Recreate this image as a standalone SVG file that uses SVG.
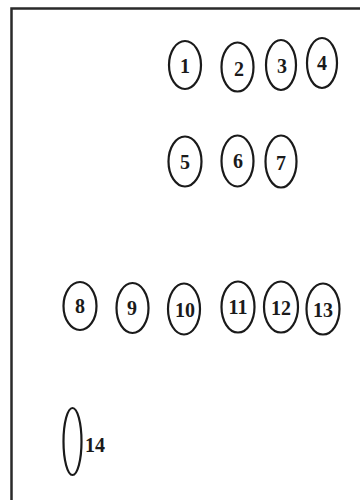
<svg xmlns="http://www.w3.org/2000/svg" width="360" height="500" viewBox="0 0 360 500">
<style>
.n ellipse{fill:none;stroke:#1a1a1a;stroke-width:2.2}
.n text{font-family:"Liberation Serif","Times New Roman",serif;font-size:20px;font-weight:bold;fill:#1a1a1a;text-anchor:middle}
.frame{fill:none;stroke:#2a2a2a;stroke-width:2.5}
</style>
<rect width="360" height="500" fill="#ffffff"/>
<path class="frame" d="M11.5 500 V8.5 H360"/>
<g id="n1" class="n"><ellipse cx="185" cy="65" rx="16" ry="24"/><text x="185" y="73">1</text></g>
<g id="n2" class="n"><ellipse cx="237.5" cy="67" rx="16" ry="24.5"/><text x="239" y="76">2</text></g>
<g id="n3" class="n"><ellipse cx="281" cy="65" rx="15" ry="25"/><text x="282" y="73">3</text></g>
<g id="n4" class="n"><ellipse cx="322" cy="63" rx="15" ry="25"/><text x="322" y="70">4</text></g>
<g id="n5" class="n"><ellipse cx="185" cy="161.5" rx="16.5" ry="25"/><text x="185" y="169">5</text></g>
<g id="n6" class="n"><ellipse cx="237.5" cy="161" rx="16" ry="25.5"/><text x="238" y="168">6</text></g>
<g id="n7" class="n"><ellipse cx="281" cy="161.5" rx="15.5" ry="26"/><text x="281" y="170">7</text></g>
<g id="n8" class="n"><ellipse cx="80" cy="306" rx="16.5" ry="24"/><text x="80" y="313">8</text></g>
<g id="n9" class="n"><ellipse cx="132.5" cy="308" rx="16" ry="25"/><text x="132" y="315">9</text></g>
<g id="n10" class="n"><ellipse cx="184" cy="309" rx="16" ry="25.5"/><text x="185" y="317">10</text></g>
<g id="n11" class="n"><ellipse cx="238" cy="307" rx="16.5" ry="25.5"/><text x="238" y="314">11</text></g>
<g id="n12" class="n"><ellipse cx="281" cy="307" rx="17" ry="25.5"/><text x="281" y="315">12</text></g>
<g id="n13" class="n"><ellipse cx="323" cy="309" rx="16.5" ry="25.5"/><text x="323" y="317">13</text></g>
<g id="n14" class="n"><ellipse cx="72.5" cy="441.5" rx="9" ry="33.5"/><text x="95" y="452">14</text></g>
</svg>
